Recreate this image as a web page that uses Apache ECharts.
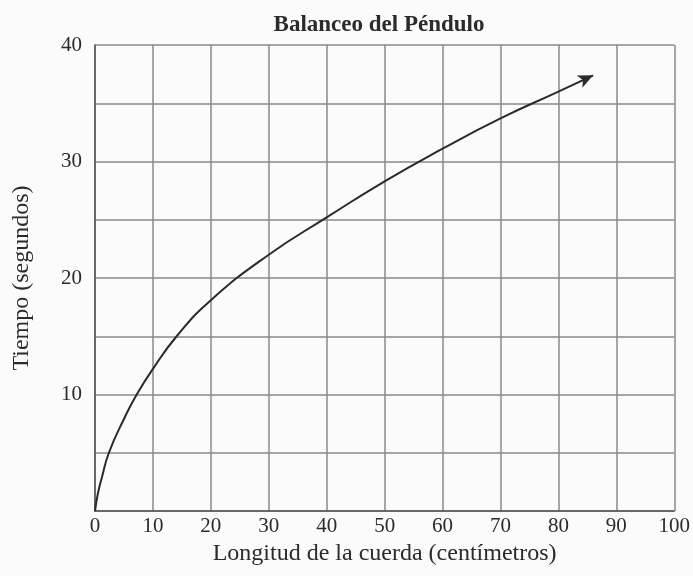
<!DOCTYPE html>
<html>
<head>
<meta charset="utf-8">
<script src="https://cdn.jsdelivr.net/npm/echarts@6/dist/echarts.min.js"></script>
<style>
  html, body { margin: 0; padding: 0; background: #fbfbfb; }
  #chart { width: 693px; height: 576px; }
</style>
</head>
<body>
<div id="chart"></div>
<script>
// longitud de la cuerda (cm) y tiempo (s)
const longitud = [0, 0.5, 1.2, 2.4, 5, 7.2, 10, 14.1, 20, 30, 40, 50, 60, 70, 80, 86];
const tiempo = [0, 1.5, 2.9, 5, 7.9, 10, 12.2, 15, 18.1, 22, 25.2, 28.3, 31.1, 33.7, 36, 37.4];
const yTickLabels = ["10", "20", "30", "40"];
const xTickLabels = ["0", "10", "20", "30", "40", "50", "60", "70", "80", "90", "100"];

const font = "'Liberation Serif', 'DejaVu Serif', serif";
const ink = "#2b2b2b";

let myChart = echarts.init(document.getElementById("chart"));

let data = longitud.map((x, i) => {
  let p = { value: [x, tiempo[i]] };
  if (i === longitud.length - 1) {
    p.symbol = "arrow";
    p.symbolSize = [10, 15];
    p.symbolRotate = -65;
  }
  return p;
});

myChart.setOption({
  backgroundColor: "#fbfbfb",
  title: {
    text: "Balanceo del Péndulo",
    left: 374,
    textAlign: "center",
    top: 9,
    textStyle: { fontFamily: font, fontSize: 23, fontWeight: "bold", color: ink },
  },
  grid: { left: 95, right: 18, top: 45, bottom: 65 },
  xAxis: {
    type: "value",
    min: 0,
    max: 100,
    interval: 10,
    name: "Longitud de la cuerda (centímetros)",
    nameLocation: "middle",
    nameGap: 19,
    nameTextStyle: { fontFamily: font, fontSize: 24, color: ink },
    axisLine: { lineStyle: { color: "#555", width: 1.5 } },
    axisTick: { show: false },
    axisLabel: {
      fontFamily: font,
      fontSize: 21,
      color: ink,
      margin: 5,
      formatter: (v) => xTickLabels[Math.round(v / 10)] || "",
    },
    splitLine: { lineStyle: { color: "#8a8a8a", width: 1.5 } },
  },
  yAxis: {
    type: "value",
    min: 0,
    max: 40,
    interval: 5,
    name: "Tiempo (segundos)",
    nameLocation: "middle",
    nameGap: 61,
    nameTextStyle: { fontFamily: font, fontSize: 24, color: ink },
    axisLine: { show: true, lineStyle: { color: "#555", width: 1.5 } },
    axisTick: { show: false },
    axisLabel: {
      fontFamily: font,
      fontSize: 21,
      color: ink,
      margin: 13,
      formatter: (v) => (v % 10 === 0 && v > 0 ? yTickLabels[v / 10 - 1] : ""),
    },
    splitLine: { lineStyle: { color: "#8a8a8a", width: 1.5 } },
  },
  series: [
    {
      type: "line",
      data: data,
      smooth: 0.5,
      symbol: "none",
      showSymbol: true,
      itemStyle: { color: "#2a2a2a" },
      lineStyle: { color: "#2a2a2a", width: 2 },
      animation: false,
    },
  ],
});
</script>
</body>
</html>
